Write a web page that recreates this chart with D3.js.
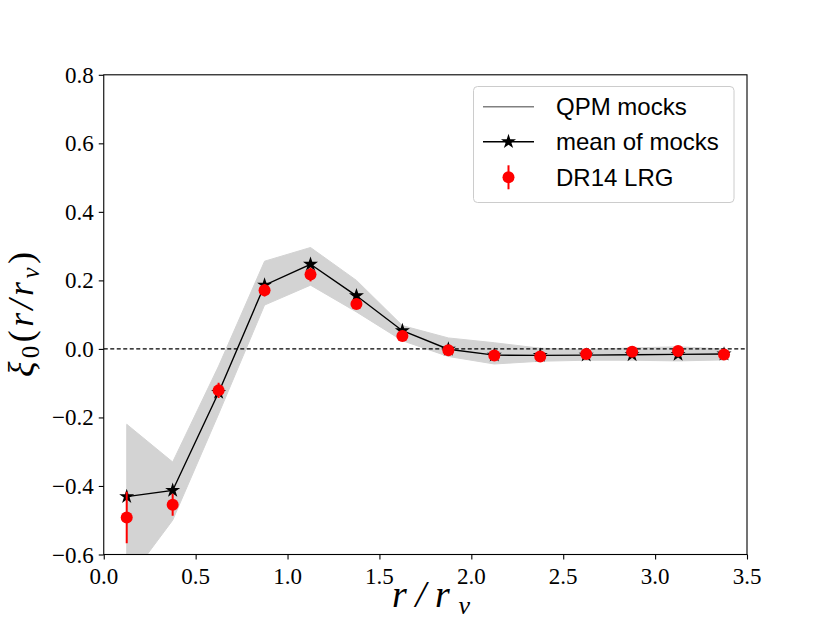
<!DOCTYPE html>
<html><head><meta charset="utf-8">
<script src="https://cdn.jsdelivr.net/npm/d3@7"></script>
<style>body{margin:0;background:#fff}svg{display:block}
.tl{font-family:"Liberation Serif","Times New Roman",serif;font-size:23px;fill:#000}</style>
</head><body><svg id="c" width="830" height="623"></svg>
<script>
const rBins = [0.125,0.375,0.625,0.875,1.125,1.375,1.625,1.875,2.125,2.375,2.625,2.875,3.125,3.375];
const mockMean = [-0.431,-0.413,-0.127,0.186,0.247,0.155,0.053,-0.001,-0.018,-0.019,-0.018,-0.017,-0.016,-0.015];
const mockUpper = [-0.22,-0.33,-0.05,0.256,0.296,0.2,0.068,0.032,0.018,0.002,-0.002,0.003,0.006,0.0];
const mockLower = [-0.68,-0.50,-0.19,0.128,0.186,0.108,0.024,-0.022,-0.044,-0.036,-0.033,-0.033,-0.035,-0.032];
const dr14 = [-0.492,-0.455,-0.121,0.171,0.217,0.131,0.038,-0.004,-0.019,-0.022,-0.015,-0.008,-0.006,-0.016];
const dr14Err = [0.075,0.032,0.022,0.018,0.02,0.014,0.01,0.007,0.006,0.006,0.005,0.005,0.005,0.005];
const xTicks = [0.0,0.5,1.0,1.5,2.0,2.5,3.0,3.5];
const yTicks = [-0.6,-0.4,-0.2,0.0,0.2,0.4,0.6,0.8];
const legendLabels = ["QPM mocks","mean of mocks","DR14 LRG"];

const svg = d3.select("#c");
const L=103.75, R=747, T=74.8, B=554.5;
const x = d3.scaleLinear().domain([0,3.5]).range([L,R]);
const y = d3.scaleLinear().domain([-0.6,0.8]).range([B,T]);
const SERIF = "Liberation Serif, Times New Roman, serif";

svg.append("defs").append("clipPath").attr("id","clip").append("rect")
  .attr("x",L).attr("y",T).attr("width",R-L).attr("height",B-T);
const g = svg.append("g").attr("clip-path","url(#clip)");

// mock band
const band = rBins.map((r,i)=>({r,u:mockUpper[i],l:mockLower[i]}));
g.append("path").datum(band)
  .attr("d", d3.area().x(d=>x(d.r)).y0(d=>y(d.l)).y1(d=>y(d.u)))
  .attr("fill","#d3d3d3").attr("stroke","#d3d3d3").attr("stroke-width",1);

// zero line
g.append("line").attr("x1",L).attr("x2",R).attr("y1",y(0)).attr("y2",y(0))
  .attr("stroke","#000").attr("stroke-width",1.1).attr("stroke-dasharray","4,2.5");

// mean line
const mean = rBins.map((r,i)=>({r,v:mockMean[i]}));
g.append("path").datum(mean)
  .attr("d", d3.line().x(d=>x(d.r)).y(d=>y(d.v)))
  .attr("fill","none").attr("stroke","#000").attr("stroke-width",1.4);
const star = d3.symbol().type(d3.symbolStar).size(70);
g.selectAll(".star").data(mean).join("path")
  .attr("transform",d=>`translate(${x(d.r)},${y(d.v)})`).attr("d",star).attr("fill","#000");

// DR14 points
const pts = rBins.map((r,i)=>({r,v:dr14[i],e:dr14Err[i]}));
g.selectAll(".eb").data(pts).join("line")
  .attr("x1",d=>x(d.r)).attr("x2",d=>x(d.r))
  .attr("y1",d=>y(d.v-d.e)).attr("y2",d=>y(d.v+d.e))
  .attr("stroke","#ff0000").attr("stroke-width",2);
g.selectAll(".pt").data(pts).join("circle")
  .attr("cx",d=>x(d.r)).attr("cy",d=>y(d.v)).attr("r",6).attr("fill","#ff0000");

// axes
const fmt = d3.format(".1f");
const minus = v => (v<0? "\u2212"+fmt(-v) : fmt(v));
const xa = svg.append("g").attr("transform",`translate(0,${B})`)
  .call(d3.axisBottom(x).tickValues(xTicks).tickFormat("").tickSize(5));
const ya = svg.append("g").attr("transform",`translate(${L},0)`)
  .call(d3.axisLeft(y).tickValues(yTicks).tickFormat("").tickSize(5));
xa.select(".domain").remove(); ya.select(".domain").remove();
svg.selectAll(".tick line").attr("stroke","#000").attr("stroke-width",1.1);

svg.append("g").selectAll("text").data(xTicks).join("text")
  .attr("class","tl").attr("x",d=>x(d)).attr("y",B+29).attr("text-anchor","middle").text(minus);
svg.append("g").selectAll("text").data(yTicks).join("text")
  .attr("class","tl").attr("x",L-10).attr("y",d=>y(d)+8).attr("text-anchor","end").text(minus);

// frame
svg.append("rect").attr("x",L).attr("y",T).attr("width",R-L).attr("height",B-T)
  .attr("fill","none").attr("stroke","#000").attr("stroke-width",1.1);

// axis labels
const xl = svg.append("text").attr("x",392).attr("y",607)
  .attr("textLength",78).attr("lengthAdjust","spacing")
  .style("font-family",SERIF).style("font-size","38px").attr("font-style","italic");
xl.append("tspan").text("r/r");
xl.append("tspan").style("font-size","26px").attr("dy",7).text("v");

const yl = svg.append("text").attr("transform","translate(33,377) rotate(-90)")
  .attr("textLength",125).attr("lengthAdjust","spacing")
  .style("font-family",SERIF).style("font-size","36px").attr("font-style","italic");
yl.append("tspan").text("ξ");
yl.append("tspan").style("font-size","25px").attr("dy",6).attr("font-style","normal").text("0");
yl.append("tspan").attr("dy",-6).attr("font-style","normal").text("(");
yl.append("tspan").text("r/r");
yl.append("tspan").style("font-size","25px").attr("dy",6).text("v");
yl.append("tspan").attr("dy",-6).attr("font-style","normal").text(")");

// legend
const lg = svg.append("g");
lg.append("rect").attr("x",473.5).attr("y",86.5).attr("width",260.5).attr("height",116).attr("rx",4)
  .attr("fill","#fff").attr("fill-opacity",0.8).attr("stroke","#cccccc").attr("stroke-width",1);
const rows=[106.7,141.7,177.3];
lg.append("line").attr("x1",483).attr("x2",534).attr("y1",rows[0]).attr("y2",rows[0]).attr("stroke","#808080").attr("stroke-width",1.5);
lg.append("line").attr("x1",483).attr("x2",534).attr("y1",rows[1]).attr("y2",rows[1]).attr("stroke","#000").attr("stroke-width",1.4);
lg.append("path").attr("transform",`translate(508.5,${rows[1]})`).attr("d",star).attr("fill","#000");
lg.append("line").attr("x1",508.5).attr("x2",508.5).attr("y1",rows[2]-12).attr("y2",rows[2]+12).attr("stroke","#ff0000").attr("stroke-width",2);
lg.append("circle").attr("cx",508.5).attr("cy",rows[2]).attr("r",6).attr("fill","#ff0000");
lg.selectAll(".lt").data(legendLabels).join("text")
  .attr("x",556).attr("y",(d,i)=>rows[i]).attr("dy","0.36em")
  .style("font-family","Liberation Sans, Arial, sans-serif").style("font-size","24px").attr("fill","#000")
  .text(d=>d);
</script></body></html>
